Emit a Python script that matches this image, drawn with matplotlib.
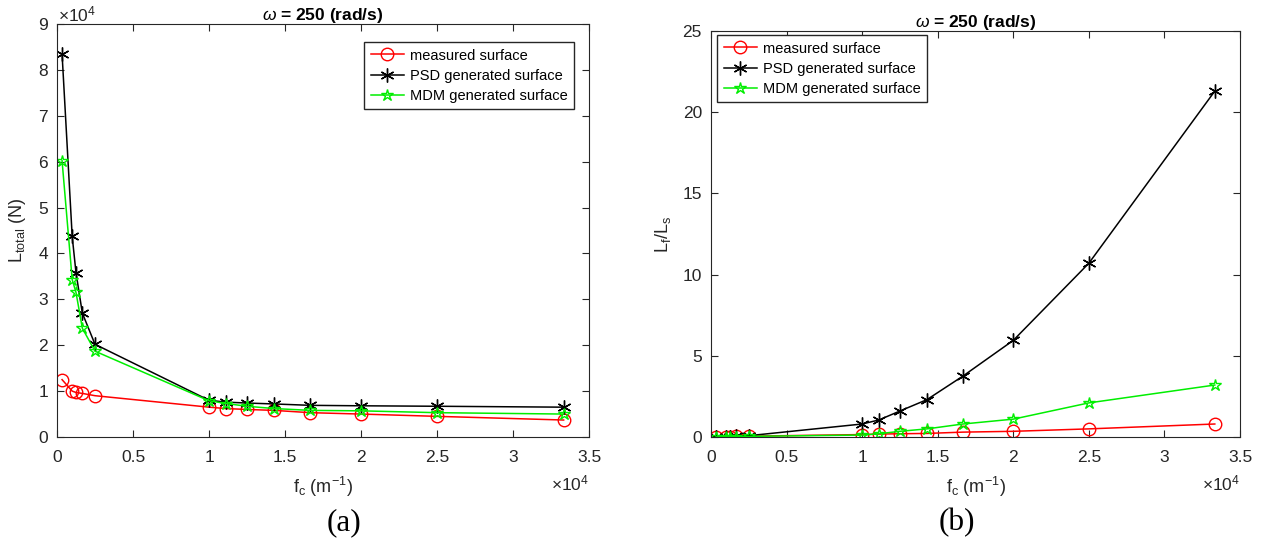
import matplotlib
matplotlib.use("Agg")
import matplotlib.pyplot as plt
from matplotlib.ticker import FuncFormatter
import numpy as np

plt.rcParams['font.family'] = ['Liberation Sans', 'DejaVu Sans']
plt.rcParams['mathtext.fontset'] = 'custom'
plt.rcParams['mathtext.rm'] = 'Liberation Sans'
plt.rcParams['mathtext.it'] = 'Liberation Sans:italic'
plt.rcParams['mathtext.bf'] = 'Liberation Sans:bold'

fc = [333, 1000, 1250, 1667, 2500, 10000, 11111, 12500, 14286, 16667, 20000, 25000, 33333]

# (a) total load
L_measured = [12500, 10000, 9700, 9500, 9000, 6500, 6200, 6000, 5800, 5300, 5000, 4500, 3700]
L_psd = [83500, 43700, 35800, 27000, 20200, 8000, 7600, 7400, 7200, 6900, 6800, 6700, 6500]
L_mdm = [60200, 34300, 31500, 23700, 18700, 7900, 7300, 6700, 6200, 5800, 5700, 5300, 5000]

# (b) ratio Lf/Ls
R_measured = [0.02, 0.03, 0.03, 0.04, 0.05, 0.15, 0.18, 0.2, 0.22, 0.3, 0.35, 0.5, 0.8]
R_psd = [0.0, 0.02, 0.03, 0.05, 0.08, 0.8, 1.05, 1.6, 2.3, 3.75, 5.95, 10.7, 21.3]
R_mdm = [0.01, 0.02, 0.02, 0.03, 0.04, 0.12, 0.2, 0.35, 0.5, 0.8, 1.1, 2.1, 3.2]

labels = ['measured surface', 'PSD generated surface', 'MDM generated surface']

W, H = 1263, 541
fig = plt.figure(figsize=(W / 100, H / 100), dpi=100)

def px_axes(x0, y0, x1, y1):
    return fig.add_axes([x0 / W, 1 - y1 / H, (x1 - x0) / W, (y1 - y0) / H])

A1 = (57, 24, 589, 437)
A2 = (711, 31, 1240, 437)
ax1 = px_axes(*A1)
ax2 = px_axes(*A2)

gray = '#262626'
star = (6, 2, 0)
sci = FuncFormatter(lambda v, _: f'{v / 1e4:g}')

def style(ax):
    for s in ax.spines.values():
        s.set_color(gray)
        s.set_linewidth(0.8)
    ax.tick_params(direction='in', top=True, right=True, colors=gray,
                   labelsize=12.5, length=5, width=0.8)
    ax.tick_params(axis='x', pad=9.5)
    ax.tick_params(axis='y', pad=6.5)

def draw(ax, m, p, d):
    ax.plot(fc, m, color='red', marker='o', mfc='none', ms=9, lw=1.1, mew=1.0, label=labels[0])
    ax.plot(fc, p, color='black', marker=star, ms=10, lw=1.1, mew=1.0, label=labels[1])
    ax.plot(fc, d, color='#00ee00', marker='*', mfc='none', ms=9, lw=1.1, mew=1.0, label=labels[2])

def times10(ax, x, y, ha):
    ax.text(x, y, r'$\times$10$^{4}$', transform=ax.transAxes, fontsize=12.5,
            color=gray, ha=ha, va='center')

def leg_anchor(A, bx, by):
    return ((bx - A[0]) / (A[2] - A[0]), 1 - (by - A[1]) / (A[3] - A[1]))

leg_kw = dict(fontsize=10.5, fancybox=False, edgecolor=gray, framealpha=1,
              handlelength=2.3, labelspacing=0.42, borderpad=0.45, handletextpad=0.4,
              loc='upper left', borderaxespad=0)

title = r'$\omega$ = 250 (rad/s)'

draw(ax1, L_measured, L_psd, L_mdm)
ax1.set_xlim(0, 35000)
ax1.set_ylim(0, 90000)
ax1.set_xticks(np.arange(0, 35001, 5000))
ax1.set_yticks(np.arange(0, 90001, 10000))
ax1.xaxis.set_major_formatter(sci)
ax1.yaxis.set_major_formatter(sci)
ax1.set_title(title, fontsize=12.5, fontweight='bold', pad=3)
ax1.set_ylabel(r'L$_{\rm total}$ (N)', fontsize=13, color=gray, labelpad=7)
ax1.set_xlabel(r'f$_{\rm c}$ (m$^{-1}$)', fontsize=13, color=gray, labelpad=7)
ax1.legend(bbox_to_anchor=leg_anchor(A1, 364, 42), **leg_kw)
style(ax1)
times10(ax1, 0.002, 1.022, 'left')
times10(ax1, 1.0, -(483 - 437) / (437 - 24), 'right')

draw(ax2, R_measured, R_psd, R_mdm)
ax2.set_xlim(0, 35000)
ax2.set_ylim(0, 25)
ax2.set_xticks(np.arange(0, 35001, 5000))
ax2.set_yticks(np.arange(0, 26, 5))
ax2.xaxis.set_major_formatter(sci)
ax2.set_title(title, fontsize=12.5, fontweight='bold', pad=3)
ax2.set_ylabel(r'L$_{\rm f}$/L$_{\rm s}$', fontsize=13, color=gray, labelpad=7)
ax2.set_xlabel(r'f$_{\rm c}$ (m$^{-1}$)', fontsize=13, color=gray, labelpad=7)
ax2.legend(bbox_to_anchor=leg_anchor(A2, 717, 35), **leg_kw)
style(ax2)
times10(ax2, 1.0, -(483 - 437) / (437 - 31), 'right')

fig.text(344 / W, 1 - 523 / H, '(a)', fontsize=22.5, family='Liberation Serif', ha='center', va='center')
fig.text(957 / W, 1 - 523 / H, '(b)', fontsize=22.5, family='Liberation Serif', ha='center', va='center')

fig.savefig('out.png', dpi=100)
